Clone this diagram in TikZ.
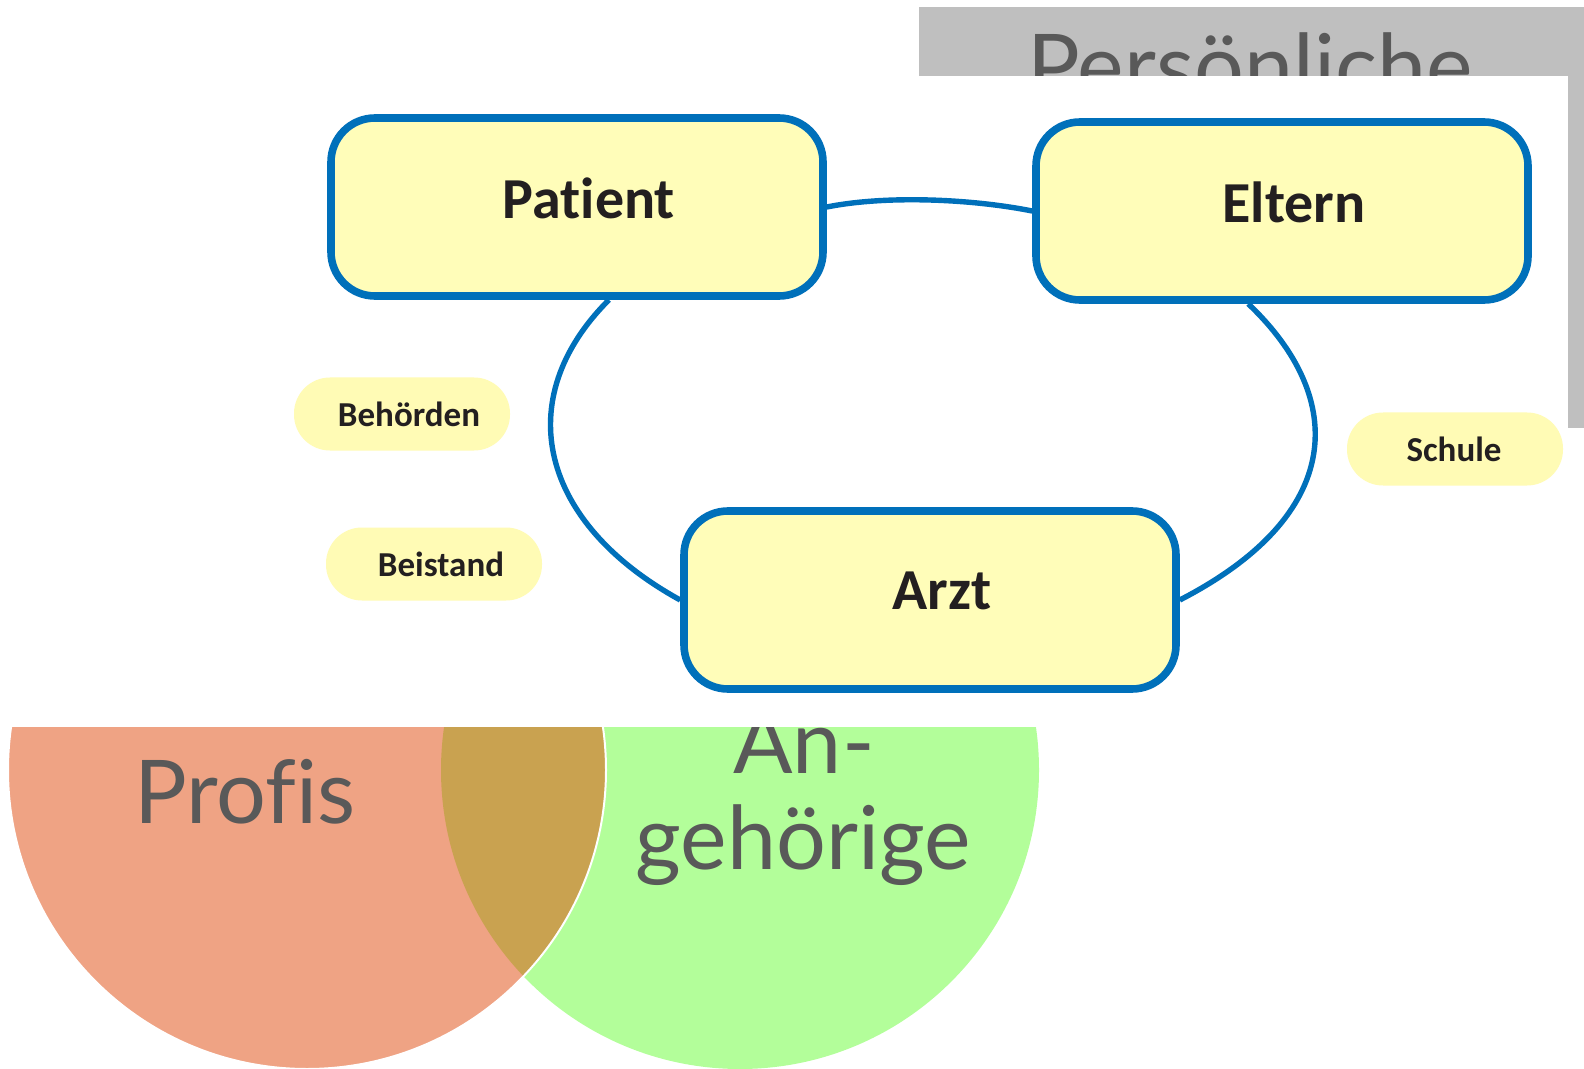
\documentclass[tikz,border=0pt]{standalone}
\usepackage{fontspec}
\setmainfont[Ligatures=NoCommon]{Carlito}
\newfontfamily\kreisfont[Ligatures=NoCommon]{Lato}
\usepackage{tikz}
\usetikzlibrary{positioning}
\definecolor{rahmenblau}{HTML}{0070BA}
\definecolor{hellgelb}{HTML}{FFFDB9}
\definecolor{pillgelb}{HTML}{FFFBB5}
\definecolor{schrift}{HTML}{231F20}
\definecolor{grau}{HTML}{BFBFBF}
\definecolor{textgrau}{HTML}{595959}
\definecolor{profisorange}{HTML}{EFA384}
\definecolor{gruen}{HTML}{B3FE9A}
\definecolor{braun}{HTML}{C9A250}
\tikzset{
    %Define style for boxes
    kasten/.style={
           rectangle,
           rounded corners=22pt,
           draw=rahmenblau, line width=3.8pt,
           fill=hellgelb,
           minimum width=246pt,
           minimum height=89pt,
           text depth=9pt,
           execute at begin node=\hspace*{12pt},
           font=\bfseries\fontsize{29}{34}\selectfont,
           text=schrift},
    %Define style for the small labels
    etikett/.style={
           rectangle,
           rounded corners=18pt,
           fill=pillgelb,
           minimum width=108pt,
           minimum height=36.5pt,
           execute at begin node=\hspace*{7pt},
           font=\bfseries\fontsize{17.5}{20}\selectfont,
           text=schrift},
    % Define line style
    linie/.style={
           draw=rahmenblau,
           line width=2.7pt},
    % Define style for the big grey words
    kreistext/.style={
           font=\kreisfont\fontsize{44}{48}\selectfont,
           text=textgrau,
           anchor=base}
}
\begin{document}
\begin{tikzpicture}[x=0.5pt,y=-0.5pt]
    \useasboundingbox (0,0) rectangle (1584,1069);
    % grey title behind the picture
    \fill[grau] (919,7) rectangle (1584,428);
    \node (persoenlich) [kreistext] at (1250,98) {Persönliche};
    % the two circles
    \fill[gruen] (740,770) circle (299);
    \fill[profisorange] (307,770) circle (299);
    \begin{scope}
      \clip (740,770) circle (299);
      \fill[braun] (307,770) circle (299);
    \end{scope}
    \draw[white, line width=1pt] (307,770) circle (299);
    \node (profis) [kreistext] at (245,823) {Profis};
    \node (an) [kreistext] at (804,773) {An-};
    \node (gehoerige) [kreistext] at (803,869) {gehörige};
    % white panel with the diagram
    \fill[white] (0,76) rectangle (1568,727);
    \node (patient) [kasten] at (577,207) {Patient};
    \node (eltern) [kasten] at (1282,211) {Eltern};
    \node (arzt) [kasten] at (930,600) {Arzt};
    \node (behoerden) [etikett] at (402,414) {Behörden};
    \node (beistand) [etikett] at (434,564) {Beistand};
    \node (schule) [etikett] at (1455,449) {\hspace*{-8pt}Schule};
    \draw [linie] (patient.east) .. controls +(60,-12) and +(-60,-12) .. (eltern.west);
    \draw [linie] (patient.289) .. controls +(-100,100) and +(-140,-77) .. (arzt.west);
    \draw [linie] (eltern.250) .. controls +(100,95) and +(165,-85) .. (arzt.east);
\end{tikzpicture}
\end{document}
